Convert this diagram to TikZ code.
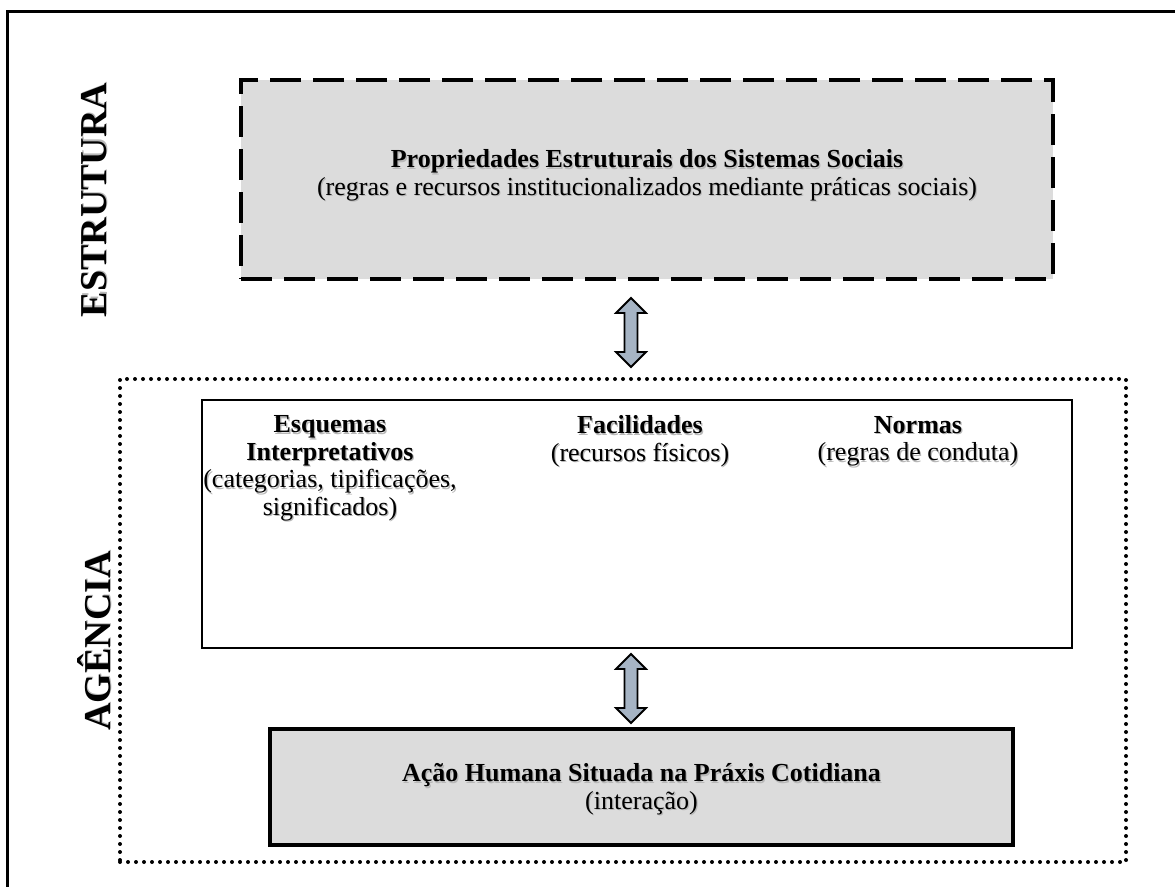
\documentclass[tikz,border=0pt]{standalone}
\usepackage{fontspec}
\setmainfont{Liberation Serif}
\definecolor{boxgray}{RGB}{220,220,220}
\definecolor{arrowfill}{RGB}{166,180,196}
\newcommand\shd[1]{\rlap{\kern1.2pt\raisebox{-1.2pt}{\textcolor{black!28}{#1}}}#1}
\begin{document}
\begin{tikzpicture}[x=1pt,y=-1pt,
  txt/.style={font=\fontsize{26}{27.5}\selectfont, align=center, inner sep=0pt},
  side/.style={font=\fontsize{38}{40}\selectfont\bfseries, rotate=90, inner sep=0pt},
  strbox/.style={draw, line width=4pt, dash pattern=on 31pt off 12pt, fill=boxgray, inner sep=0pt},
  agbox/.style={draw, line width=4pt, dash pattern=on 0pt off 8pt, line cap=round, inner sep=0pt},
  whitebox/.style={draw, line width=2pt, fill=white, inner sep=0pt},
  actbox/.style={draw, line width=4.5pt, fill=boxgray, inner sep=0pt},
  dblarrow/.pic={\draw[line width=1.8pt, fill=arrowfill, line join=miter]
     (0,-34.5) -- (15,-19.5) -- (6.5,-19.5) -- (6.5,19.5) -- (15,19.5) -- (0,34.5)
     -- (-15,19.5) -- (-6.5,19.5) -- (-6.5,-19.5) -- (-15,-19.5) -- cycle;}]
\useasboundingbox (0,0) rectangle (1175,886);
\begin{scope}
\clip (0,0) rectangle (1175,886);
\draw[line width=3pt] (7,11) rectangle (1200,920);
\end{scope}

% ESTRUTURA
\node[strbox, minimum width=812pt, minimum height=199pt] (estr) at (647,179.5) {};
\node[txt] (estrtxt) at (647,176) {\bfseries\shd{Propriedades Estruturais dos Sistemas Sociais}\\\shd{(regras e recursos institucionalizados mediante práticas sociais)}};

% AGENCIA
\node[agbox, minimum width=1006pt, minimum height=483pt] (agen) at (623,620.5) {};
\node[whitebox, minimum width=870pt, minimum height=248pt] (mod) at (637,524) {};
\node[txt] (esq) at (330,469) {\bfseries\shd{Esquemas}\\\bfseries\shd{Interpretativos}\\\shd{(categorias, tipificações,}\\\shd{significados)}};
\node[txt] (fac) at (640,442) {\bfseries\shd{Facilidades}\\\shd{(recursos físicos)}};
\node[txt] (nor) at (918,442) {\bfseries\shd{Normas}\\\shd{(regras de conduta)}};

\node[actbox, minimum width=743pt, minimum height=116pt] (acao) at (641.5,787) {};
\node[txt] (acaotxt) at (641.5,790) {\bfseries\shd{Ação Humana Situada na Práxis Cotidiana}\\\shd{(interação)}};

% arrows
\coordinate (a1) at (631,332.5);
\coordinate (a2) at (631,688.5);
\pic at (a1) {dblarrow};
\pic at (a2) {dblarrow};

% side labels
\node[side] (lblE) at (95,200) {\shd{ESTRUTURA}};
\node[side] (lblA) at (95,641) {\shd{AGÊNCIA}};
\end{tikzpicture}
\end{document}
